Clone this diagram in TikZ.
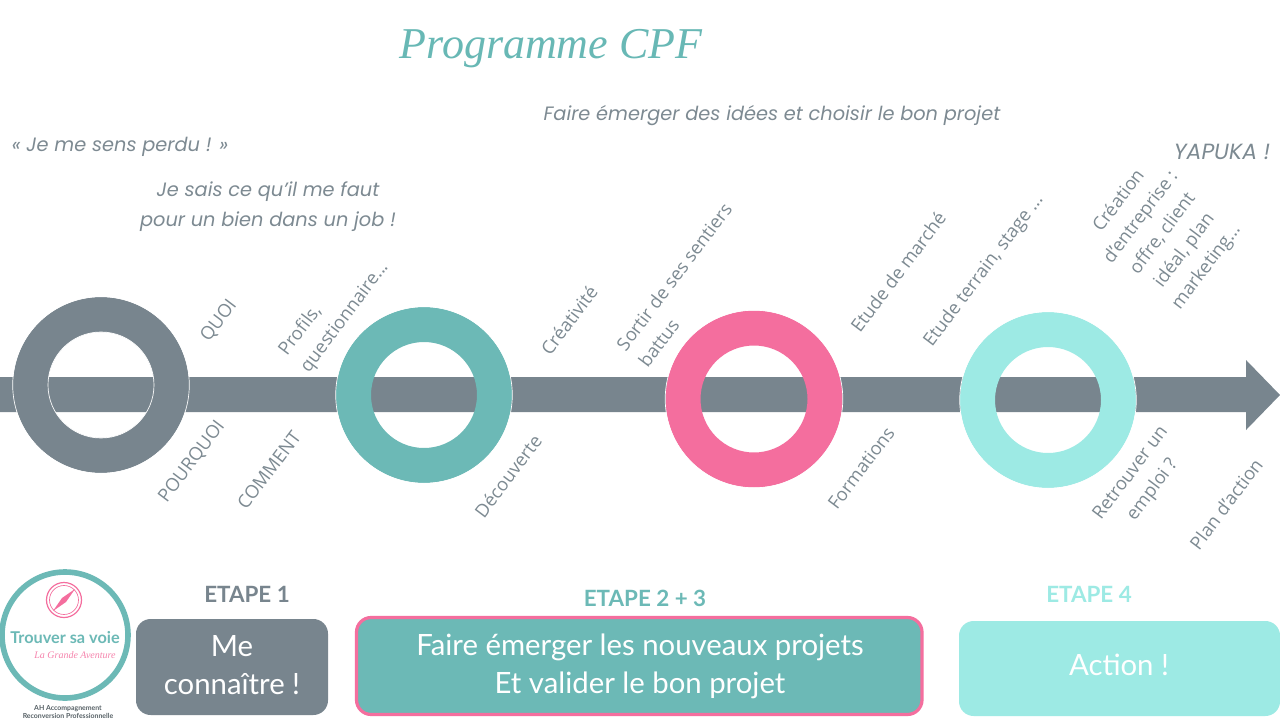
\documentclass[tikz,border=0pt]{standalone}
\usepackage{fontspec}
\setmainfont{Lato}
\newfontfamily\quotefont{Poppins}
\newfontfamily\diagfont{Open Sans}
\newfontfamily\titlefont{Liberation Serif}
\definecolor{slate}{HTML}{78858E}
\definecolor{teal}{HTML}{6CB9B6}
\definecolor{rose}{HTML}{F46E9E}
\definecolor{aqua}{HTML}{9DEAE4}
\definecolor{txt}{HTML}{7D8A92}
\definecolor{titlec}{HTML}{68B8B5}
\tikzset{
 diag/.style={text=txt,font=\diagfont\fontsize{13.7}{20.5}\selectfont,rotate=53,align=center,inner sep=0pt},
 quote/.style={text=txt,font=\quotefont\fontsize{14.5}{22.5}\selectfont\itshape,align=center,inner sep=0pt},
 etape/.style={font=\fontsize{16.8}{18}\selectfont\bfseries,inner sep=0pt},
 box/.style={text=white,align=center,font=\fontsize{22}{28.5}\selectfont,inner sep=0pt}
}
\begin{document}
\begin{tikzpicture}[x=0.75pt,y=-0.75pt]
\useasboundingbox (0,0) rectangle (1280,720);
\fill[white] (0,0) rectangle (1280,720);
% arrow
\fill[slate] (0,377) -- (1246,377) -- (1246,360) -- (1280,395) -- (1246,430) -- (1246,412) -- (0,412) -- cycle;
% rings
\fill[slate,even odd rule] (101,385) circle (88) (101,385) circle (53);
\fill[teal,even odd rule] (424,395) circle (88) (424,395) circle (53);
\fill[rose,even odd rule] (754,399) circle (88.5) (754,399) circle (53.5);
\fill[aqua,even odd rule] (1048,400) circle (88) (1048,400) circle (53);
\draw[white,line width=0.5pt] (101,385) circle (88.3) (101,385) circle (53) (424,395) circle (88.3) (754,399) circle (88.8) (1048,400) circle (88.3);
\node[inner sep=0pt,text=titlec] (title) at (551,49) {\titlefont\fontsize{33}{36}\selectfont\itshape Programme CPF};
\node[quote] (q0) at (772,116) {Faire émerger des idées et choisir le bon projet};
\node[quote] (q1) at (120,147) {« Je me sens perdu ! »};
\node[quote] (q2) at (268,207) {Je sais ce qu’il me faut\\pour un bien dans un job !};
\node[quote,font=\quotefont\fontsize{16.5}{20}\selectfont\itshape] (q3) at (1222,152) {YAPUKA !};
% diagonal labels
\node[diag] (d1) at (219,321) {QUOI};
\node[diag] (d2) at (192,462) {POURQUOI};
\node[diag] (d3) at (269,470) {COMMENT};
\node[diag,align=left] (d4) at (334,309) {Profils,\\questionnaire...};
\node[diag] (d5) at (508,476) {Découverte};
\node[diag] (d6) at (569,320) {Créativité};
\node[diag,align=left] (d7) at (685,285) {Sortir de ses sentiers\\battus};
\node[diag] (d8) at (898,272) {Etude de marché};
\node[diag] (d9) at (984,271) {Etude terrain, stage ...};
\node[diag] (d10) at (861,468) {Formations};
\node[diag] (d11) at (1142,482) {Retrouver un\\emploi ?};
\node[diag] (d12) at (1226,504) {Plan d’action};
\node[diag] (d13) at (1163,234) {Création\\d’entreprise :\\offre, client\\idéal, plan\\marketing...};
% etapes
\node[etape,text=slate] (e1) at (247,594) {ETAPE 1};
\node[etape,text=teal] (e2) at (645,598) {ETAPE 2 + 3};
\node[etape,text=aqua] (e3) at (1089,594) {ETAPE 4};
\fill[slate,rounded corners=11pt] (136,619) rectangle (328,715);
\node[box] (b1) at (232,665) {Me\\connaître !};
\fill[teal,draw=rose,line width=2.4pt,rounded corners=11pt] (356.5,617.5) rectangle (922,714.5);
\node[box] (b2) at (640,666) {Faire émerger les nouveaux projets\\Et valider le bon projet};
\fill[aqua,rounded corners=11pt] (959,621) rectangle (1280,716);
\node[box] (b3) at (1119,665) {Action !};
% logo
\draw[teal,line width=4.2pt,fill=white] (65,635) circle (63);
\draw[rose,line width=0.9pt,fill=white] (64,600) circle (17.5);
\draw[rose,line width=0.5pt] (64,600) circle (14.5);
\fill[rose] (75,589) -- (66,602) -- (53,611) -- (62,598) -- cycle;
\node[inner sep=0pt,text=teal,font=\fontsize{12.2}{13}\selectfont\bfseries] (l1) at (65,638) {Trouver sa voie};
\node[inner sep=0pt,text=rose!85,font=\titlefont\fontsize{7.5}{8}\selectfont\itshape] (l2) at (75,655) {La Grande Aventure};
\node[inner sep=0pt,text=txt!70!black,align=center,font=\fontsize{5.2}{5.8}\selectfont\bfseries] (l3) at (68,712) {AH Accompagnement\\Reconversion Professionnelle};
\end{tikzpicture}
\end{document}
